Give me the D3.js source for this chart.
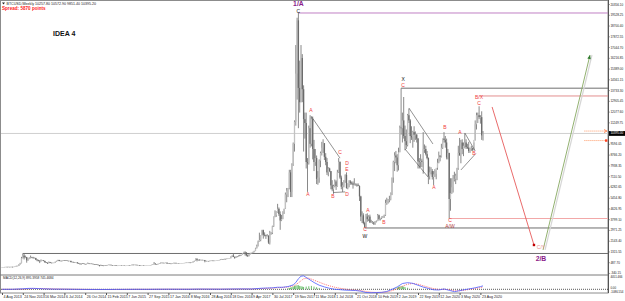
<!DOCTYPE html>
<html><head><meta charset="utf-8">
<script src="https://cdn.jsdelivr.net/npm/d3@7"></script>
<style>
html,body{margin:0;padding:0;background:#fff;overflow:hidden}
svg{display:block;font-family:"Liberation Sans",Arial,sans-serif}
</style>
</head><body>
<svg id="c" width="625" height="301"></svg>
<script>
// ---------------- DATA ----------------
const startWeek = "2013-08-04";
const firstOpen = 95;
const weekHigh = [
107,105,125,130,132,135,130,135,140,135,165,220,215,330,440,900,1160,1150,1000,900,
780,860,1000,900,900,850,830,720,680,640,700,660,640,600,500,460,540,510,460,450,
460,530,600,670,670,610,600,650,640,635,625,600,595,595,530,515,490,485,480,440,
390,400,400,390,360,370,460,400,390,380,370,350,335,330,300,275,300,270,245,265,
260,280,300,300,290,270,260,260,240,235,245,245,245,242,240,230,235,252,250,270,
310,300,295,298,285,275,265,235,240,245,235,240,240,250,270,290,330,500,400,340,
370,400,460,470,450,440,460,455,420,400,390,410,440,440,440,420,420,420,425,425,
432,450,470,465,462,460,475,550,600,780,770,690,700,680,680,665,660,595,590,590,
610,630,612,610,612,620,645,660,720,740,730,755,750,775,780,790,935,1000,1150,910,
930,930,1040,1060,1060,1190,1290,1330,1260,1080,1100,1210,1220,1290,1370,1600,1840,2150,2760,2550,
2980,2990,2780,2600,2650,2560,2900,2800,3300,4000,4480,4400,4980,4700,4400,4130,4400,4600,5850,6200,
6200,7600,7600,8100,9700,11400,17200,19300,19666,16000,17200,16500,14100,12000,12000,8500,11000,11800,11700,11700,
9900,9200,8700,7500,8400,9000,9750,9950,9650,8880,8500,7800,7760,7500,6800,6450,6850,6800,7600,8500,
8250,7150,6650,6800,7250,7400,6550,6800,6800,6700,6700,6950,6550,6550,6550,6400,5600,4400,4250,3600,
4200,4250,4100,4150,3750,3650,3600,3650,3700,4200,4150,3900,4000,4050,4150,5300,5450,5350,5600,5850,
7000,8300,8950,9050,8800,9300,11000,13880,12000,13200,11000,10700,11900,12300,11500,10950,10600,10950,10550,10350,
10050,8500,8800,8450,10500,9550,9450,9050,8550,7850,7800,7650,7500,7650,7550,8450,9000,8700,9600,10000,
10500,10200,10000,9200,8900,6950,6950,7200,7450,7300,7750,9450,10050,9900,9950,9700,10400,9950,9600,9750,
9300,9450,9300,9700,11400,12000,12000,12486,11800,12100,10580
];
const weekLow = [
92,95,100,115,112,115,120,122,100,120,130,160,180,200,310,400,780,700,800,450,
600,720,780,800,780,780,650,560,550,420,540,600,560,470,420,350,400,430,420,420,
430,440,520,580,560,560,560,590,610,610,590,570,575,480,460,470,470,465,390,370,
320,300,370,345,320,320,360,340,345,355,340,310,310,285,260,165,200,210,215,215,
230,235,270,280,255,240,240,235,215,215,220,230,232,232,224,222,222,230,240,245,
255,270,272,280,258,255,195,205,225,225,225,228,232,238,245,265,280,310,300,310,
315,355,385,420,415,410,420,370,360,370,365,370,400,405,410,400,408,408,412,415,
418,428,440,440,450,435,440,470,530,590,550,600,610,640,650,640,480,560,565,570,
570,600,600,595,600,605,615,630,650,680,690,690,725,730,755,770,785,880,880,750,
820,880,910,950,990,1050,1150,1000,940,890,940,1090,1150,1190,1250,1340,1550,1700,2050,2100,
2550,2300,2480,2280,2480,1900,1850,2600,2650,3200,3950,3980,4300,4050,2980,3650,3800,4200,4580,5100,
5500,6100,5500,5500,7900,9000,11000,13000,10800,12000,12800,12800,9000,10000,7700,5900,8000,9300,9400,8400,
7500,7900,6500,6450,6600,7800,8700,8900,8350,7950,7200,7100,7420,6100,5950,5750,6250,6050,6300,7350,
6900,6100,5900,6250,6600,6150,6100,6250,6450,6450,6150,6400,6380,6300,6350,5200,3650,3500,3400,3122,
3150,3600,3650,3500,3500,3450,3350,3370,3550,3650,3700,3700,3800,3900,3900,4050,4900,5000,5100,5250,
5650,6600,7500,8100,7450,7550,8950,10300,9700,10000,9100,9200,9400,11200,9650,9900,9300,9750,9900,9700,
7700,7700,7800,7800,7300,8900,8700,8400,6500,6850,7250,6850,6430,7050,6870,7600,8100,8250,8550,9200,
9700,9300,8400,8400,3850,4450,5750,5850,6700,6500,6800,7600,8700,8100,8800,8650,9250,9200,9200,8900,
8900,9050,9050,9100,9850,10700,11200,11500,11150,9900,9850
];
const weekClose = [
100,103,118,128,120,128,125,130,125,133,160,190,205,320,420,800,1000,850,880,640,
740,850,860,830,800,810,680,650,600,560,630,630,580,470,450,420,500,440,430,440,
445,525,580,655,580,600,595,630,625,620,595,585,590,500,510,480,475,475,400,380,
330,390,385,355,325,365,390,350,378,362,345,320,318,290,270,210,260,225,220,255,
240,275,290,285,260,245,255,238,225,228,240,242,237,238,226,228,232,248,246,260,
290,277,290,282,262,262,230,230,236,228,232,235,239,248,268,285,320,380,330,322,
360,390,435,440,420,430,450,385,395,378,376,405,438,432,412,415,412,416,418,422,
430,447,455,460,455,443,470,535,590,760,665,680,650,665,655,655,590,570,580,575,
605,610,608,602,610,618,640,655,700,705,702,740,735,765,775,790,900,1000,905,820,
920,915,1020,1000,1050,1180,1270,1230,1020,960,1090,1180,1195,1270,1350,1550,1740,2050,2200,2550,
2950,2600,2550,2500,2520,2000,2750,2750,3250,4000,4100,4350,4600,4200,3700,3800,4380,4600,5700,6000,
6150,7400,5900,8000,9600,11300,15000,19100,13900,12800,16200,13800,11500,11200,8200,8100,10800,9600,11500,9200,
8200,8500,6900,7000,8300,8900,9300,9650,8600,8200,7400,7700,7500,6400,6100,6350,6700,6350,7400,8200,
7000,6300,6400,6700,7200,6200,6500,6700,6600,6550,6450,6450,6450,6400,6350,5550,4000,4100,3500,3200,
4000,3800,4000,3550,3550,3550,3450,3650,3650,4100,3800,3900,4000,4000,4100,5050,5150,5300,5300,5800,
7000,8200,8700,8550,7950,8950,10850,10800,11400,10200,9800,9500,11800,11400,10200,10100,10500,10300,10300,10000,
8250,8200,8300,8200,9200,9200,8800,8500,7100,7400,7500,7050,7250,7300,7750,8150,8700,8600,9300,10000,
9900,9700,8550,8900,5350,5800,6250,6900,6900,7150,7700,8900,8700,9700,9200,9450,9700,9350,9300,9050,
9250,9250,9150,9900,11100,11800,11800,11650,11650,10250,10395
];
const priceTicks = [-340.15,487.70,1315.55,2143.40,2971.25,3799.10,4626.95,5454.80,6282.65,7110.50,
7938.35,8766.20,9594.05,10421.90,11249.75,12077.60,12905.45,13733.30,14561.15,15389.00,
16216.85,17044.70,17872.55,18700.40,19528.25,20356.10];
const timeTickLabels = ["4 Aug 2013","24 Nov 2013","16 Mar 2014","6 Jul 2014","26 Oct 2014","15 Feb 2015",
"7 Jun 2015","27 Sep 2015","17 Jan 2016","8 May 2016","28 Aug 2016","18 Dec 2016","9 Apr 2017","30 Jul 2017",
"19 Nov 2017","11 Mar 2018","1 Jul 2018","21 Oct 2018","10 Feb 2019","2 Jun 2019","22 Sep 2019","12 Jan 2020",
"3 May 2020","23 Aug 2020"];
// MACD samples: [week index, main, signal]
const macdPoints = [
[0,0,0],[8,10,5],[16,150,60],[20,260,150],[24,280,230],[28,220,240],[32,150,200],[40,60,100],[48,40,55],
[56,0,15],[64,-40,-20],[72,-50,-40],[80,-50,-50],[88,-30,-35],[96,-15,-20],[104,5,0],[112,-5,0],[120,20,10],
[128,30,25],[136,20,25],[144,20,20],[152,70,50],[160,50,55],[168,40,45],[176,80,60],[184,110,95],[192,100,100],
[200,320,220],[204,380,300],[208,430,370],[212,600,480],[216,600,560],[220,800,680],[224,1300,1000],[226,2000,1350],
[228,3100,1900],[230,3850,2500],[232,3950,3100],[236,3000,3300],[240,2000,2700],[244,1200,2100],[248,700,1500],
[252,300,1000],[256,0,600],[260,-100,300],[264,-250,50],[268,-300,-150],[272,-350,-250],[276,-550,-380],
[280,-950,-650],[284,-1000,-850],[288,-950,-920],[292,-900,-900],[296,-650,-780],[300,0,-400],[304,700,150],
[308,1700,900],[312,1950,1500],[316,1750,1700],[320,1200,1500],[324,650,1050],[328,250,600],[332,-150,200],
[336,-200,-50],[340,100,0],[344,-300,-100],[348,-700,-450],[352,-400,-450],[356,-100,-250],[360,150,0],
[364,450,200],[368,800,500],[370,1000,650]];
const histWeeks = [220,221,222,223,224,225,226,227,228,229,230,231,232,234,236,238,240,242,244,302,304,305,306,307,308,309,310,312];
const histValues = [300,400,500,650,800,950,1100,1200,1200,1000,900,800,700,800,900,1000,800,600,400,300,600,750,850,900,900,800,650,450];
// horizontal levels: start week, price
const levels = [
  {from:16, price:1160, kind:"gray"},
  {from:228, price:19666, kind:"purple"},
  {from:279, price:3122, kind:"gray"},
  {from:307, price:13880, kind:"gray"},
  {from:344, price:3850, kind:"pink"},
  {from:367, price:13280, kind:"red"}
];
// trend lines: [week1, price1, week2, price2]
const trendLines = [
  [238,11700,260,8500],[255,5850,264,5900],
  [313,12356,331.5,9586],[310,9201,327.7,7046],
  [356,10432,364,9047],[353,7585,364.5,8855]
];
const projections = [
  {w1:377, p1:12433, w2:409.2, p2:1813, kind:"down"},
  {w1:416.2, p1:1429, w2:452.3, p2:16434, kind:"up"}
];
const waveLabels = [
  {w:228,p:20358,t:"1/A",kind:"big"},{w:228,p:19800,t:"C",kind:"black"},
  {w:237.7,p:12125,t:"A",kind:"red"},{w:235.4,p:5661,t:"A",kind:"red"},
  {w:260,p:8893,t:"C",kind:"red"},{w:265.4,p:8080,t:"D",kind:"red"},{w:265.4,p:7600,t:"E",kind:"red"},
  {w:254.6,p:5507,t:"B",kind:"red"},{w:265.4,p:5661,t:"D",kind:"red"},
  {w:281.5,p:4430,t:"A",kind:"red"},{w:293.8,p:3507,t:"B",kind:"red"},
  {w:279.2,p:2968,t:"C",kind:"red"},{w:279.2,p:2460,t:"W",kind:"black"},
  {w:308.5,p:14510,t:"X",kind:"black"},{w:308.5,p:14080,t:"C",kind:"red"},
  {w:340.8,p:10817,t:"B",kind:"red"},{w:332.3,p:6200,t:"A",kind:"red"},
  {w:352.3,p:10432,t:"A",kind:"red"},{w:363.1,p:8816,t:"B",kind:"red"},
  {w:366.9,p:13125,t:"B/X",kind:"red"},{w:366.9,p:12700,t:"C",kind:"red"},
  {w:344.6,p:3680,t:"C",kind:"red"},{w:344.6,p:3240,t:"A/W",kind:"brown"},
  {w:414.6,p:1583,t:"C/Y",kind:"light"},{w:414.6,p:737,t:"2/B",kind:"big"}
];
const headerText = "BTCUSD,Weekly  10257.80 10572.90 9851.40 10395.20";
const spreadText = "Spread: 5870 points";
const ideaText = "IDEA 4";
const macdText = "MACD(12,26,9) 895.3958 745.4684";
const macdAxis = [4051.466, 0, -1086.554];

// ---------------- DRAW ----------------
const svg = d3.select("#c");
const t0 = d3.utcParse("%Y-%m-%d")(startWeek);
const WEEK = 604800000;
const wd = i => new Date(+t0 + i*WEEK);
const x = d3.scaleUtc().domain([t0, wd(466)]).range([2, 2+466*1.3]);
const xw = i => x(wd(i));
const y = d3.scaleLinear().domain([-420, 20512]).range([274, 2]);
const ym = d3.scaleLinear().domain([-1088, 4060]).range([293, 275.5]);
const RIGHT = 608;

const labelColor = {red:"#f03c3c", black:"#111", big:"#8a1a8a", brown:"#b04040", light:"#e98a8a"};
const levelColor = {gray:"#6e6e6e", purple:"#c080c4", pink:"#f2a8a8", red:"#e38e8e"};

// frame
svg.append("rect").attr("x",0.5).attr("y",0.5).attr("width",RIGHT-0.5).attr("height",292.5)
  .attr("fill","none").attr("stroke","#8c8c8c").attr("stroke-width",1);
svg.append("line").attr("x1",0).attr("x2",RIGHT).attr("y1",275).attr("y2",275).attr("stroke","#7a7a7a");

// current price line
const last = weekClose[weekClose.length-1];
svg.append("line").attr("x1",1).attr("x2",RIGHT).attr("y1",y(last)).attr("y2",y(last))
  .attr("stroke","#cfcfcf").attr("stroke-width",1);

// levels
svg.append("g").selectAll("line").data(levels).join("line")
  .attr("x1",d=>xw(d.from)).attr("x2",RIGHT).attr("y1",d=>y(d.price)).attr("y2",d=>y(d.price))
  .attr("stroke",d=>levelColor[d.kind]).attr("stroke-width",1);

// candles
const bars = weekClose.map((c,i)=>({i, o: i ? weekClose[i-1] : firstOpen, h: weekHigh[i], l: weekLow[i], c}));
const gc = svg.append("g");
gc.selectAll("line").data(bars).join("line")
  .attr("x1",d=>xw(d.i)).attr("x2",d=>xw(d.i))
  .attr("y1",d=>y(d.h)).attr("y2",d=>y(d.l))
  .attr("stroke","#7c7c7c").attr("stroke-width",0.9);
gc.selectAll("rect").data(bars).join("rect")
  .attr("x",d=>xw(d.i)-0.65).attr("width",1.3)
  .attr("y",d=>y(Math.max(d.o,d.c)))
  .attr("height",d=>Math.max(0.5, Math.abs(y(d.o)-y(d.c))))
  .attr("fill",d=>d.c>=d.o ? "#c2c2c2" : "#6a6a6a");

// trend lines
svg.append("g").selectAll("line").data(trendLines).join("line")
  .attr("x1",d=>xw(d[0])).attr("y1",d=>y(d[1])).attr("x2",d=>xw(d[2])).attr("y2",d=>y(d[3]))
  .attr("stroke","#4a4a4a").attr("stroke-width",0.6);

// projections
const up = projections.find(d=>d.kind==="up");
const down = projections.find(d=>d.kind==="down");
svg.append("line").attr("x1",xw(up.w1)+2).attr("y1",y(up.p1)).attr("x2",xw(up.w2)+2).attr("y2",y(up.p2))
  .attr("stroke","#d6d6d6").attr("stroke-width",1.2);
svg.append("line").attr("x1",xw(down.w1)).attr("y1",y(down.p1)).attr("x2",xw(down.w2)).attr("y2",y(down.p2))
  .attr("stroke","#e65a5a").attr("stroke-width",0.9);
svg.append("rect").attr("x",xw(down.w2)-1.2).attr("y",y(down.p2)-1.2).attr("width",2.4).attr("height",2.4)
  .attr("fill","#c00000");
svg.append("line").attr("x1",xw(up.w1)).attr("y1",y(up.p1)).attr("x2",xw(up.w2)).attr("y2",y(up.p2))
  .attr("stroke","#86a860").attr("stroke-width",0.9);
{
  const ax = xw(up.w2), ay = y(up.p2);
  const ang = Math.atan2(y(up.p2)-y(up.p1), xw(up.w2)-xw(up.w1));
  const L = 4, Wd = 1.8;
  const bx = ax - L*Math.cos(ang), by = ay - L*Math.sin(ang);
  const pts = [[ax,ay],[bx+Wd*Math.sin(ang), by-Wd*Math.cos(ang)],[bx-Wd*Math.sin(ang), by+Wd*Math.cos(ang)]];
  svg.append("polygon").attr("points",pts.map(p=>p.join(",")).join(" ")).attr("fill","#2f7a2f");
}

// high/low markers of last bar (dotted orange)
const lastBar = bars[bars.length-1];
[lastBar.h, lastBar.l].forEach((v,k)=>{
  svg.append("line").attr("x1",xw(448)).attr("x2",RIGHT-2).attr("y1",y(v)).attr("y2",y(v))
    .attr("stroke","#ff8040").attr("stroke-width",0.8).attr("stroke-dasharray","1,1");
  if(k===0){
    svg.append("path").attr("d",`M${RIGHT-4},${y(v)-1.5}L${RIGHT-1},${y(v)}L${RIGHT-4},${y(v)+1.5}`)
      .attr("fill","none").attr("stroke","#ff6020").attr("stroke-width",0.7);
  } else {
    svg.append("rect").attr("x",RIGHT-3).attr("y",y(v)-1.2).attr("width",2.4).attr("height",2.4).attr("fill","#ff4020");
  }
});

// wave labels
svg.append("g").selectAll("text").data(waveLabels).join("text")
  .attr("x",d=>xw(d.w)).attr("y",d=>y(d.p))
  .attr("text-anchor","middle").attr("dominant-baseline","middle")
  .attr("font-size",d=>d.kind==="big" ? 6.8 : 5)
  .attr("font-weight",d=>d.kind==="big" ? "bold" : "normal")
  .attr("fill",d=>labelColor[d.kind])
  .text(d=>d.t);

// header
svg.append("path").attr("d","M2,2.5L5,2.5L3.5,4.5Z").attr("fill","#222");
svg.append("text").attr("x",6.5).attr("y",4.6).attr("font-size",3.6).attr("fill","#222").text(headerText);
svg.append("text").attr("x",2).attr("y",10.2).attr("font-size",4.6).attr("font-weight","bold").attr("fill","#ff2020").text(spreadText);
svg.append("text").attr("x",53).attr("y",36).attr("font-size",7).attr("font-weight","bold").attr("fill","#111").text(ideaText);

// y axis
const yAxis = d3.axisRight(y).tickValues(priceTicks).tickSize(1.5).tickFormat(d=>d.toFixed(2));
const gy = svg.append("g").attr("transform",`translate(${RIGHT},0)`).call(yAxis);
gy.select(".domain").remove();
gy.selectAll("line").attr("stroke","#555");
gy.selectAll("text").attr("font-size",3.1).attr("fill","#222").attr("x",2.4).attr("font-family","Liberation Sans, Arial");
svg.append("line").attr("x1",RIGHT+0.5).attr("x2",RIGHT+0.5).attr("y1",0).attr("y2",293).attr("stroke","#555");
// current price box
svg.append("rect").attr("x",RIGHT+1).attr("y",y(last)-2.4).attr("width",625-RIGHT-1).attr("height",4.8).attr("fill","#000");
svg.append("text").attr("x",RIGHT+2.4).attr("y",y(last)).attr("dominant-baseline","middle")
  .attr("font-size",3.1).attr("fill","#fff").text(last.toFixed(2));

// MACD
svg.append("line").attr("x1",1).attr("x2",RIGHT).attr("y1",ym(0)).attr("y2",ym(0))
  .attr("stroke","#111").attr("stroke-width",0.7).attr("stroke-dasharray","1,1");
svg.append("g").selectAll("line").data(histWeeks).join("line")
  .attr("x1",d=>xw(d)).attr("x2",d=>xw(d)).attr("y1",ym(0))
  .attr("y2",(d,i)=>ym(histValues[i])).attr("stroke","#5cb85c").attr("stroke-width",0.9);
svg.append("path").datum(macdPoints).attr("fill","none").attr("stroke","#ff5050").attr("stroke-width",0.8)
  .attr("stroke-dasharray","1,1").attr("d",d3.line().x(d=>xw(d[0])).y(d=>ym(d[2])));
svg.append("path").datum(macdPoints).attr("fill","none").attr("stroke","#4d5cff").attr("stroke-width",0.8)
  .attr("d",d3.line().x(d=>xw(d[0])).y(d=>ym(d[1])));
svg.append("text").attr("x",3).attr("y",279.2).attr("font-size",3.2).attr("fill","#222").text(macdText);
const mlab = svg.append("g");
mlab.selectAll("text").data(macdAxis).join("text")
  .attr("x",RIGHT+2.4)
  .attr("y",(d,i)=> i===0 ? ym(d)+2.0 : (i===1 ? ym(d)-0.9 : ym(d)-0.4))
  .attr("dominant-baseline","middle").attr("font-size",2.9).attr("fill","#222")
  .text((d,i)=> i===1 ? "0.00" : d.toFixed(3));

// x axis
const tickDates = timeTickLabels.map(s=>d3.utcParse("%d %b %Y")(s));
const xAxis = d3.axisBottom(x).tickValues(tickDates).tickSize(2).tickFormat((d,i)=>timeTickLabels[i]);
const gx = svg.append("g").attr("transform","translate(0,293)").call(xAxis);
gx.select(".domain").remove();
gx.selectAll("line").attr("stroke","#555");
gx.selectAll("text").attr("font-size",3.6).attr("fill","#222").attr("text-anchor","start")
  .attr("x",1).attr("y",2.2).attr("dy","0.71em").attr("font-family","Liberation Sans, Arial");
</script>
</body></html>
